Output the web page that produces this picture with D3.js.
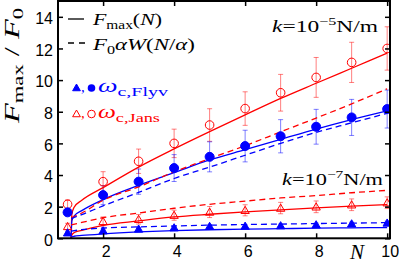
<!DOCTYPE html>
<html><head><meta charset="utf-8">
<script src="https://cdn.jsdelivr.net/npm/d3@7"></script>
<style>body{margin:0;background:#fff} svg{display:block}</style>
</head><body>
<svg id="c" width="399" height="264"></svg>
<script>
// ---- data ----
const N = [1,2,3,4,5,6,7,8,9,10];
const jansK5 = [2.15,3.58,4.87,6.0,7.16,8.2,9.2,10.17,11.12,12.0];
const jansK5Err = [0.28,0.63,0.77,0.9,1.03,1.06,1.16,1.26,1.27,1.37];
const flyvK5 = [1.64,2.73,3.58,4.44,5.15,5.83,6.45,7.05,7.64,8.17];
const flyvK5Err = [0.2,0.6,0.8,0.85,0.95,1.0,1.05,1.1,1.14,1.2];
const jansK7 = [0.75,1.07,1.2,1.46,1.66,1.77,1.91,1.99,2.12,2.25];
const jansK7Err = [0.2,0.28,0.3,0.32,0.35,0.35,0.36,0.37,0.37,0.37];
const flyvK7 = [0.35,0.48,0.59,0.67,0.76,0.77,0.8,0.86,0.92,0.97];
const flyvK7Err = [0.1,0.1,0.1,0.1,0.1,0.1,0.1,0.1,0.1,0.12];

const solidN = [1.1,1.12,1.18,1.4,2,3,4,5,6,7,8,9,10];
const fmaxJansK5 = [0,1.5,1.95,2.4,3.2,4.5,5.65,6.74,7.8,8.84,9.8,10.75,11.7];
const fmaxFlyvK5 = [0,1.1,1.4,1.75,2.45,3.35,4.15,4.95,5.6,6.25,6.9,7.5,8.05];
const fmaxJansK7 = [0,0.2,0.35,0.5,0.82,1.1,1.35,1.52,1.67,1.8,1.92,2.03,2.13];
const fmaxFlyvK7 = [0,0.08,0.13,0.18,0.28,0.4,0.48,0.54,0.58,0.61,0.64,0.66,0.68];
const dashN = [1.1,1.4,2,3,4,5,6,7,8,9,10];
const lambertJansK5 = [1.3,1.6,2.4,3.25,4.2,5.04,5.85,6.73,7.6,8.5,9.45];
const lambertFlyvK5 = [1.25,1.5,2.05,2.9,3.78,4.5,5.25,6.0,6.7,7.3,7.9];
const lambertJansK7 = [0.85,1.0,1.3,1.6,1.9,2.15,2.35,2.55,2.7,2.88,3.03];
const lambertFlyvK7 = [0.45,0.55,0.65,0.72,0.78,0.83,0.87,0.9,0.93,0.96,0.99];

const xTicks = [2,4,6,8,10];
const yTicks = [0,2,4,6,8,10,12,14];
const RED = "#ff0000", BLUE = "#0000ff";

// ---- layout ----
const L = 58, R = 390, T = 1, B = 238.3;
const svg = d3.select("#c");
const x = d3.scaleLinear().domain([0.73, 10.08]).range([L, R]);
const y = d3.scaleLinear().domain([0, 15]).range([B, T]);

svg.append("defs").append("clipPath").attr("id","clip")
  .append("rect").attr("x",L).attr("y",T).attr("width",R-L).attr("height",B-T);

const plot = svg.append("g").attr("clip-path","url(#clip)");

// error bars
function errBars(vals, errs, color){
  const g = plot.append("g").attr("stroke",color).attr("stroke-opacity",0.5).attr("stroke-width",1).attr("fill","none");
  N.forEach((n,i)=>{
    const cx = x(n), y1 = y(vals[i]+errs[i]), y2 = y(vals[i]-errs[i]);
    g.append("line").attr("x1",cx).attr("x2",cx).attr("y1",y1).attr("y2",y2);
    g.append("line").attr("x1",cx-2.5).attr("x2",cx+2.5).attr("y1",y1).attr("y2",y1);
    g.append("line").attr("x1",cx-2.5).attr("x2",cx+2.5).attr("y1",y2).attr("y2",y2);
  });
}
errBars(jansK5, jansK5Err, RED);
errBars(flyvK5, flyvK5Err, BLUE);
errBars(jansK7, jansK7Err, RED);
errBars(flyvK7, flyvK7Err, BLUE);

// curves
function curve(xs, ys, color, dashed){
  const line = d3.line().x((d,i)=>x(xs[i])).y(d=>y(d)).curve(d3.curveMonotoneX);
  plot.append("path").attr("d", line(ys)).attr("fill","none").attr("stroke",color)
    .attr("stroke-width",1.3).attr("stroke-dasharray", dashed ? "6,4" : null);
}
curve(solidN, fmaxJansK5, RED, false);
curve(solidN, fmaxFlyvK5, BLUE, false);
curve(solidN, fmaxJansK7, RED, false);
curve(solidN, fmaxFlyvK7, BLUE, false);
curve(dashN, lambertJansK5, RED, true);
curve(dashN, lambertFlyvK5, BLUE, true);
curve(dashN, lambertJansK7, RED, true);
curve(dashN, lambertFlyvK7, BLUE, true);

// markers
const tri = d3.symbol(d3.symbolTriangle).size(30);
function circles(vals, color, filled){
  plot.append("g").selectAll("circle").data(vals).join("circle")
    .attr("cx",(d,i)=>x(N[i])).attr("cy",d=>y(d)).attr("r", filled?4.5:4.3)
    .attr("fill", filled?color:"none").attr("stroke",color).attr("stroke-width",1);
}
function triangles(vals, color, filled){
  plot.append("g").selectAll("path").data(vals).join("path")
    .attr("d", tri).attr("transform",(d,i)=>`translate(${x(N[i])},${y(d)+0.8})`)
    .attr("fill", filled?color:"none").attr("stroke",color).attr("stroke-width",1);
}
circles(jansK5, RED, false);
circles(flyvK5, BLUE, true);
triangles(jansK7, RED, false);
triangles(flyvK7, BLUE, true);

// frame
svg.append("rect").attr("x",L).attr("y",T).attr("width",R-L).attr("height",B-T)
  .attr("fill","none").attr("stroke","#000").attr("stroke-width",2);

// axes
function styleAxis(g){
  g.select(".domain").remove();
  g.selectAll(".tick line").attr("stroke","#000").attr("stroke-width",1.5);
  g.selectAll("text").attr("font-family","'Liberation Sans', Arial, sans-serif").attr("font-size",16).attr("fill","#000");
  g.attr("font-family",null).attr("font-size",null);
}
svg.append("g").attr("transform",`translate(0,${B})`)
  .call(d3.axisBottom(x).tickValues(xTicks).tickSizeInner(-5).tickSizeOuter(0).tickPadding(7).tickFormat(d3.format("d")))
  .call(styleAxis).call(g=>g.selectAll("text").attr("dx",2.5));
svg.append("g").attr("transform",`translate(0,${T})`)
  .call(d3.axisTop(x).tickValues(xTicks).tickSizeInner(-5).tickSizeOuter(0).tickFormat(""))
  .call(styleAxis);
svg.append("g").attr("transform",`translate(${L},0)`)
  .call(d3.axisLeft(y).tickValues(yTicks).tickSizeInner(-5).tickSizeOuter(0).tickPadding(5).tickFormat(d3.format("d")))
  .call(styleAxis).call(g=>g.selectAll("text").attr("dy","0.42em"));
svg.append("g").attr("transform",`translate(${R},0)`)
  .call(d3.axisRight(y).tickValues(yTicks).tickSizeInner(-5).tickSizeOuter(0).tickFormat(""))
  .call(styleAxis);

// math text helper: parts = [text, italic, shift, size]
function mathText(parent, px, py, parts, color, len){
  const t = parent.append("text").attr("x",px).attr("y",py).attr("fill",color||"#000")
    .attr("font-family","'Liberation Serif', 'Times New Roman', serif");
  let cur = 0;
  parts.forEach(p=>{
    t.append("tspan").text(p[0]).attr("font-style",p[1]?"italic":"normal")
      .attr("dy", p[2]-cur).attr("font-size",p[3]);
    cur = p[2];
  });
  if(len) t.attr("textLength",len).attr("lengthAdjust","spacingAndGlyphs");
  return t;
}

// y label
const yl = svg.append("g").attr("transform","translate(19,123) rotate(-90)");
mathText(yl, 0, 0, [["F",1,0,20],["max",0,4,14],[" / ",0,0,20],["F",1,0,20],["0",0,4,14]], "#000", 115);

// x label
mathText(svg, 350, 259, [["N",1,0,21]], "#000");

// legend
const lg = svg.append("g");
lg.append("line").attr("x1",68).attr("x2",84).attr("y1",19).attr("y2",19).attr("stroke","#000").attr("stroke-width",1.3);
lg.append("line").attr("x1",68).attr("x2",85).attr("y1",43).attr("y2",43).attr("stroke","#000").attr("stroke-width",1.3).attr("stroke-dasharray","6,5");
mathText(lg, 93, 25, [["F",1,0,17],["max",0,3.5,12],["(",0,0,17],["N",1,0,17],[")",0,0,17]], "#000", 69);
mathText(lg, 93, 50, [["F",1,0,17],["0",0,3.5,12],["αW",1,0,17],["(",0,0,17],["N",1,0,17],["/",0,0,17],["α",1,0,17],[")",0,0,17]], "#000", 102);
lg.append("path").attr("d", d3.symbol(d3.symbolTriangle).size(26)).attr("transform","translate(76.5,88.5)").attr("fill",BLUE).attr("stroke",BLUE);
lg.append("text").attr("x",81).attr("y",92).attr("fill",BLUE).attr("font-family","'Liberation Serif', serif").attr("font-size",15).text(",");
lg.append("circle").attr("cx",91.5).attr("cy",88).attr("r",3.8).attr("fill",BLUE);
mathText(lg, 98, 92, [["ω",1,0,18],["c,Flyv",0,4,13]], BLUE, 70);
lg.append("path").attr("d", d3.symbol(d3.symbolTriangle).size(26)).attr("transform","translate(76.5,114.5)").attr("fill","none").attr("stroke",RED);
lg.append("text").attr("x",81).attr("y",118).attr("fill",RED).attr("font-family","'Liberation Serif', serif").attr("font-size",15).text(",");
lg.append("circle").attr("cx",91.5).attr("cy",114).attr("r",3.8).attr("fill","none").attr("stroke",RED);
mathText(lg, 98, 118, [["ω",1,0,18],["c,Jans",0,4,13]], RED, 62);

// k annotations
mathText(svg, 272, 32, [["k",1,0,16],["=",0,0,16],["10",0,0,16],["−5",0,-7,11],["N/m",0,0,16]], "#000", 106);
mathText(svg, 282, 185, [["k",1,0,16],["=",0,0,16],["10",0,0,16],["−7",0,-7,11],["N/m",0,0,16]], "#000", 101);
</script>
</body></html>
